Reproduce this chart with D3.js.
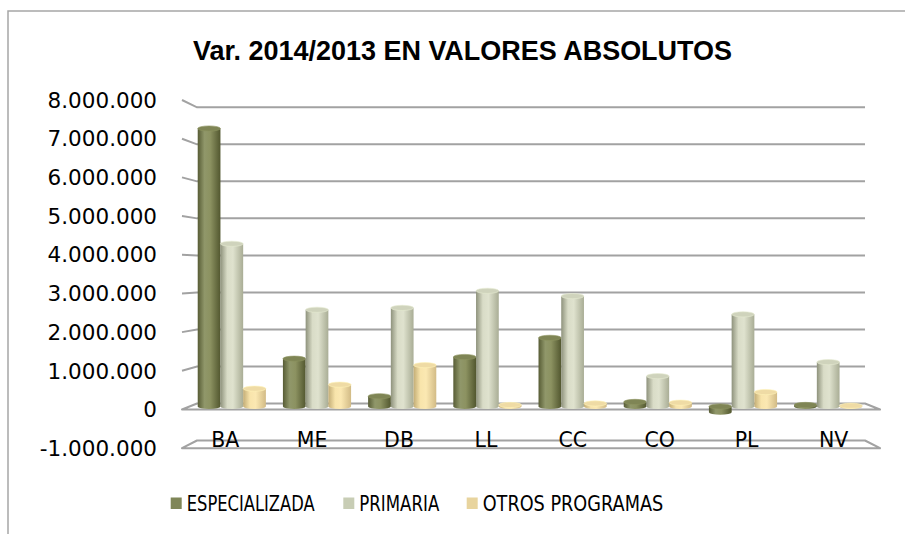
<!DOCTYPE html>
<html>
<head>
<meta charset="utf-8">
<script src="https://cdn.jsdelivr.net/npm/d3@7"></script>
<style>
  html, body { margin: 0; padding: 0; background: #ffffff; }
  svg { display: block; }
</style>
</head>
<body>
<script>
// ---- data ----
const title = "Var. 2014/2013 EN VALORES ABSOLUTOS";
const categories = ["BA", "ME", "DB", "LL", "CC", "CO", "PL", "NV"];
const seriesNames = ["ESPECIALIZADA", "PRIMARIA", "OTROS PROGRAMAS"];
const especializada = [7330000, 1260000, 270000, 1305000, 1810000, 120000, -150000, 40000];
const primaria = [4290000, 2550000, 2600000, 3050000, 2910000, 800000, 2430000, 1170000];
const otrosProgramas = [470000, 575000, 1090000, 40000, 80000, 100000, 380000, 20000];
const yTicks = [-1000000, 0, 1000000, 2000000, 3000000, 4000000, 5000000, 6000000, 7000000, 8000000];

const W = 905, H = 534;
const svg = d3.select("body").append("svg").attr("width", W).attr("height", H);
const defs = svg.append("defs");

// chart frame
svg.append("rect").attr("x", 8).attr("y", 11).attr("width", W + 20).attr("height", H + 20)
  .attr("fill", "none").attr("stroke", "#a6a6a6").attr("stroke-width", 1.5);

// title
svg.append("text").attr("x", 193).attr("y", 59.5)
  .attr("font-family", "'Liberation Sans', Arial, sans-serif").attr("font-weight", "bold")
  .attr("font-size", 27).attr("textLength", 539).attr("lengthAdjust", "spacingAndGlyphs")
  .attr("fill", "#000").text(title);

// ---- scales ----
const domainY = [-1000000, 8000000];
const yBack = d3.scaleLinear().domain(domainY).range([440.5, 107.3]);   // back wall
const yFront = d3.scaleLinear().domain(domainY).range([448.2, 100.0]);  // front edge
const yBar = d3.scaleLinear().domain(domainY).range([444.4, 103.1]);    // bar plane

const x = d3.scaleBand().domain(categories).range([189.2, 870.8]).paddingInner(0.2).paddingOuter(0.1);
const xs = d3.scaleBand().domain(seriesNames).range([0, x.bandwidth()]);

const wallL = 197, wallR = 865, frontL = 182, frontR = 880;
const gridColor = "#a2a2a2";

// grid lines on back wall + side ticks
const grid = svg.append("g");
yTicks.forEach(v => {
  if (v <= 0) {
    grid.append("path")
      .attr("d", `M${frontL},${yFront(v)}L${wallL},${yBack(v)}L${wallR},${yBack(v)}L${frontR},${yFront(v)}Z`)
      .attr("fill", "none").attr("stroke", gridColor).attr("stroke-width", 2).attr("stroke-linejoin", "round");
  } else {
    grid.append("path")
      .attr("d", `M${frontL},${yFront(v)}L${wallL},${yBack(v)}L${wallR},${yBack(v)}`)
      .attr("fill", "none").attr("stroke", gridColor).attr("stroke-width", 2);
  }
});

// y labels
const fmt = v => d3.format(",")(v).replace(/,/g, ".").replace("\u2212", "-");
svg.append("g").selectAll("text").data(yTicks).join("text")
  .attr("x", 157).attr("y", d => yFront(d)).attr("dy", "0.36em")
  .attr("text-anchor", "end")
  .attr("font-family", "'DejaVu Sans', sans-serif").attr("font-size", 21.5)
  .attr("fill", "#000").text(d => fmt(d));

// ---- gradients ----
const styles = {
  "ESPECIALIZADA": { stops: [["0%", "#575c35"], ["30%", "#90976a"], ["55%", "#8c9261"], ["100%", "#52572f"]], cap: "#7f8555" },
  "PRIMARIA": { stops: [["0%", "#8e927c"], ["30%", "#d9dcc7"], ["55%", "#dfe2ce"], ["100%", "#a9ad95"]], cap: "#cfd3bc" },
  "OTROS PROGRAMAS": { stops: [["0%", "#c3ad76"], ["30%", "#f8e4ab"], ["55%", "#fbe8b2"], ["100%", "#d2bb86"]], cap: "#efdba5" }
};
seriesNames.forEach((s, i) => {
  const g = defs.append("linearGradient").attr("id", "grad" + i).attr("x1", "0").attr("x2", "1").attr("y1", "0").attr("y2", "0");
  styles[s].stops.forEach(st => g.append("stop").attr("offset", st[0]).attr("stop-color", st[1]));
});

// ---- bars ----
const seriesData = [especializada, primaria, otrosProgramas];
const ry = 2.6;
const bars = svg.append("g");
categories.forEach((c, ci) => {
  seriesNames.forEach((s, si) => {
    const v = seriesData[si][ci];
    const x0 = x(c) + xs(s);
    const w = xs.bandwidth();
    const cx = x0 + w / 2;
    const y0 = yBar(0), y1 = yBar(v);
    const top = Math.min(y0, y1), bot = Math.max(y0, y1);
    const g = bars.append("g");
    const baseY = v >= 0 ? y0 : y1;
    const capY = v >= 0 ? y1 : y0;
    g.append("ellipse").attr("cx", cx).attr("cy", baseY).attr("rx", w / 2).attr("ry", ry)
      .attr("fill", `url(#grad${si})`);
    g.append("rect").attr("x", x0).attr("y", top).attr("width", w).attr("height", Math.max(0, bot - top))
      .attr("fill", `url(#grad${si})`);
    g.append("ellipse").attr("cx", cx).attr("cy", capY).attr("rx", w / 2).attr("ry", ry)
      .attr("fill", styles[s].cap).attr("stroke", d3.color(styles[s].cap).brighter(0.3)).attr("stroke-width", 0.6);
  });
});

// category labels (slight perspective offset)
svg.append("g").selectAll("text").data(categories).join("text")
  .attr("x", d => { const gc = x(d) + x.bandwidth() / 2; return gc + 0.02 * (gc - 560); })
  .attr("y", 446.7)
  .attr("text-anchor", "middle")
  .attr("font-family", "'DejaVu Sans', sans-serif").attr("font-size", 20.5)
  .attr("fill", "#000").text(d => d);

// legend
const legendColors = ["#7f8658", "#c8cdb5", "#e8d49e"];
const legendX = [170.7, 343.3, 466.7];
const legendLen = [128, 80, 180.5];
const lg = svg.append("g");
seriesNames.forEach((s, i) => {
  lg.append("rect").attr("x", legendX[i]).attr("y", 497.5).attr("width", 11).attr("height", 11.5)
    .attr("fill", legendColors[i]);
  lg.append("text").attr("x", legendX[i] + 16).attr("y", 511.3)
    .attr("font-family", "'DejaVu Sans', sans-serif").attr("font-size", 20.5)
    .attr("textLength", legendLen[i]).attr("lengthAdjust", "spacingAndGlyphs")
    .attr("fill", "#000").text(s);
});
</script>
</body>
</html>
